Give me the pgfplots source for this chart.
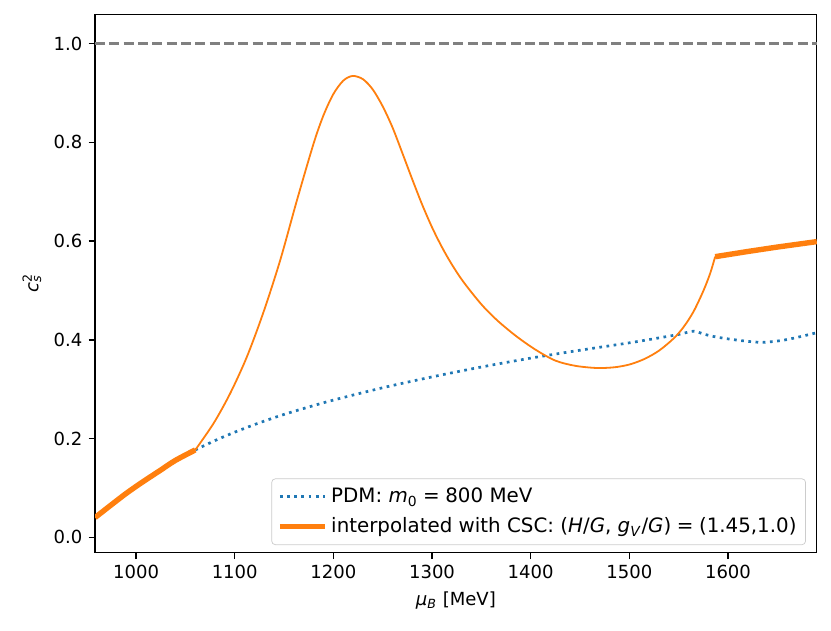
\documentclass[border=0pt]{standalone}
\usepackage{fontspec}
\setmainfont{DejaVu Sans}
\usepackage{pgfplots}
\pgfplotsset{compat=1.18}
\definecolor{mplblue}{HTML}{1F77B4}
\definecolor{mplorange}{HTML}{FF7F0E}
\newcommand{\req}{\hspace{0.28em}=\hspace{0.28em}}
\begin{document}
\begin{tikzpicture}
\path[use as bounding box] (-52.7pt,-43.4pt) rectangle (408.1pt,306.5pt);
\begin{axis}[
  at={(0,0)}, anchor=south west,
  scale only axis, width=400.2pt, height=298.6pt,
  xmin=958.4, xmax=1690, ymin=-0.0312, ymax=1.0596,
  xtick={1000,1100,1200,1300,1400,1500,1600},
  ytick={0,0.2,0.4,0.6,0.8,1.0},
  tick align=outside, xtick pos=bottom, ytick pos=left,
  major tick length=3.5pt,
  tick style={black, line width=0.8pt},
  axis line style={line width=0.8pt},
  /pgf/number format/assume math mode=true,
  xticklabel style={/pgf/number format/1000 sep={}},
  yticklabel style={/pgf/number format/.cd, fixed, fixed zerofill, precision=1},
  ticklabel style={font=\fontsize{10}{12}\selectfont},
  label style={font=\fontsize{10}{12}\selectfont},
  xlabel={\textit{μ}\textsubscript{\textit{B}} [MeV]},
  ylabel={\textit{c}\rlap{\textsuperscript{2}}\textsubscript{\textit{s}}},
  legend style={at={(0.985,0.0143)}, anchor=south east, draw=black!20,
    rounded corners=2pt, fill=white, fill opacity=0.8, text opacity=1,
    font=\fontsize{11}{13}\selectfont, row sep=3pt, inner xsep=3pt, inner ysep=3pt},
  legend cell align=left,
  legend image code/.code={\draw[#1] (0pt,0pt) -- (25pt,0pt);},
]
\addplot[gray, line width=1.5pt, dash pattern=on 5.55pt off 2.4pt, forget plot]
  coordinates {(958.4,1) (1690,1)};
\addplot[mplblue, line width=1.5pt, dash pattern=on 1.5pt off 2.5pt, smooth]
  coordinates {
  (1060,0.177) (1080,0.196) (1100,0.213) (1125,0.232) (1150,0.249)
  (1175,0.264) (1200,0.278) (1250,0.303) (1300,0.325) (1350,0.345)
  (1400,0.363) (1450,0.379) (1500,0.394) (1530,0.404) (1550,0.411)
  (1565,0.4175) (1575,0.412) (1585,0.407) (1600,0.402) (1620,0.397)
  (1636,0.395) (1655,0.399) (1670,0.405) (1690,0.4145)};
\addlegendentry{PDM: \textit{m}\textsubscript{0}\req 800 MeV}
\addplot[mplorange, line width=3pt, smooth]
  coordinates {
  (958.4,0.040) (975,0.066) (990,0.089) (1005,0.110) (1024,0.135)
  (1040,0.156) (1060,0.177)};
\addlegendentry{interpolated with CSC: (\textit{H}/\textit{G}, \textit{g}\textsubscript{\textit{V}}/\textit{G})\req(1.45,1.0)}
\addplot[mplorange, line width=1pt, smooth, forget plot]
  coordinates {
  (1060,0.177) (1078.6,0.231) (1095.5,0.292) (1112.4,0.366) (1129.3,0.457)
  (1146.2,0.562) (1163.1,0.683) (1180,0.798) (1190,0.855) (1200,0.898)
  (1210,0.925) (1219.5,0.9346) (1230,0.928) (1240,0.907) (1250,0.873)
  (1260,0.830) (1270,0.778) (1280,0.725) (1290,0.674) (1300,0.628)
  (1310,0.588) (1320,0.553) (1332,0.517) (1350,0.472) (1365.8,0.440)
  (1385,0.408) (1405,0.380) (1425,0.358) (1445,0.3475) (1467,0.3430)
  (1485,0.3445) (1500,0.350) (1515,0.361) (1530,0.378) (1545,0.403)
  (1555,0.426) (1565,0.457) (1575,0.499) (1582,0.535) (1587,0.5685)};
\addplot[mplorange, line width=3pt, forget plot]
  coordinates {(1587,0.5685) (1620,0.579) (1650,0.588) (1690,0.599)};
\end{axis}
\end{tikzpicture}
\end{document}
